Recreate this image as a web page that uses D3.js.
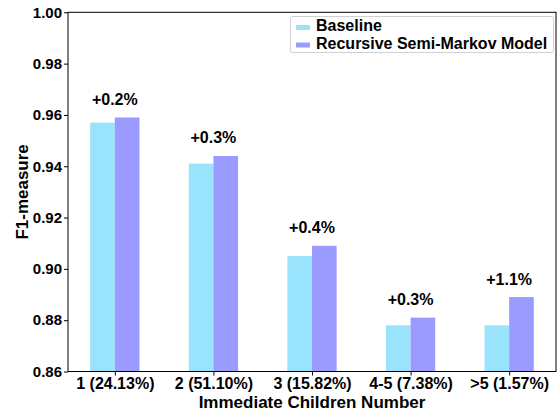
<!DOCTYPE html>
<html>
<head>
<meta charset="utf-8">
<script src="https://d3js.org/d3.v7.min.js"></script>
<style>
  html, body { margin: 0; padding: 0; background: #fff; }
  svg { display: block; font-family: "Liberation Sans", Arial, sans-serif; font-weight: bold; }
</style>
</head>
<body>
<svg id="chart" width="559" height="411"></svg>
<script>
const categories = ["1 (24.13%)", "2 (51.10%)", "3 (15.82%)", "4-5 (7.38%)", ">5 (1.57%)"];
const baseline = [0.957, 0.941, 0.905, 0.878, 0.878];
const rsm = [0.959, 0.944, 0.909, 0.881, 0.889];
const gains = ["+0.2%", "+0.3%", "+0.4%", "+0.3%", "+1.1%"];
const yTicks = [0.86, 0.88, 0.90, 0.92, 0.94, 0.96, 0.98, 1.00];
const seriesNames = ["Baseline", "Recursive Semi-Markov Model"];
const colors = ["#99e3fc", "#9b9bff"];

const svg = d3.select("#chart");
const L = 68, R = 556, T = 12.3, B = 371.5;
const x = d3.scaleLinear().domain([-0.475, categories.length - 1 + 0.475]).range([L, R]);
const y = d3.scaleLinear().domain([0.86, 1.0]).range([B, T]);
const bw = 0.25;

// bars
const series = [baseline, rsm];
series.forEach((vals, s) => {
  svg.append("g").selectAll("rect").data(vals).join("rect")
    .attr("x", (d, i) => x(i + (s === 0 ? -bw : 0)))
    .attr("width", x(bw) - x(0))
    .attr("y", d => y(d))
    .attr("height", d => B - y(d))
    .attr("fill", colors[s]);
});

// gain labels
svg.append("g").selectAll("text").data(gains).join("text")
  .attr("x", (d, i) => x(i))
  .attr("y", (d, i) => y(rsm[i]) - 12.5)
  .attr("text-anchor", "middle")
  .attr("font-size", 16)
  .attr("fill", "#000")
  .text(d => d);

// axes
const yAxis = d3.axisLeft(y).tickValues(yTicks).tickFormat(d3.format(".2f")).tickSize(4).tickPadding(2);
const gy = svg.append("g").attr("transform", `translate(${L},0)`).call(yAxis);
gy.selectAll("text").attr("font-size", 15).attr("font-family", "Liberation Sans, Arial, sans-serif").attr("font-weight", "bold").attr("fill", "#000");
gy.select(".domain").remove();
gy.selectAll("line").attr("stroke", "#000");

const xAxis = d3.axisBottom(x).tickValues(d3.range(categories.length)).tickFormat(i => categories[i]).tickSize(4).tickPadding(2);
const gx = svg.append("g").attr("transform", `translate(0,${B})`).call(xAxis);
gx.selectAll("text").attr("font-size", 16).attr("font-family", "Liberation Sans, Arial, sans-serif").attr("font-weight", "bold").attr("fill", "#000");
gx.select(".domain").remove();
gx.selectAll("line").attr("stroke", "#000");

// frame
svg.append("rect").attr("x", L).attr("y", T).attr("width", R - L).attr("height", B - T)
  .attr("fill", "none").attr("stroke", "#000").attr("stroke-width", 1);

// axis labels
svg.append("text").attr("x", (L + R) / 2).attr("y", 408).attr("text-anchor", "middle")
  .attr("font-size", 17).attr("fill", "#000").text("Immediate Children Number");
svg.append("text").attr("transform", `translate(28,${(T + B) / 2}) rotate(-90)`).attr("text-anchor", "middle")
  .attr("font-size", 17).attr("fill", "#000").text("F1-measure");

// legend
const lg = svg.append("g");
lg.append("rect").attr("x", 290.5).attr("y", 16.5).attr("width", 263).attr("height", 36).attr("rx", 2)
  .attr("fill", "#fff").attr("fill-opacity", 0.8).attr("stroke", "#d0d0d0");
seriesNames.forEach((n, i) => {
  const cy = 27.5 + i * 17.5;
  lg.append("rect").attr("x", 296).attr("y", cy - 2.5).attr("width", 14).attr("height", 5).attr("fill", colors[i]);
  lg.append("text").attr("x", 316).attr("y", cy + 3.5 + 0).attr("font-size", 16).attr("fill", "#000").text(n);
});
</script>
</body>
</html>
